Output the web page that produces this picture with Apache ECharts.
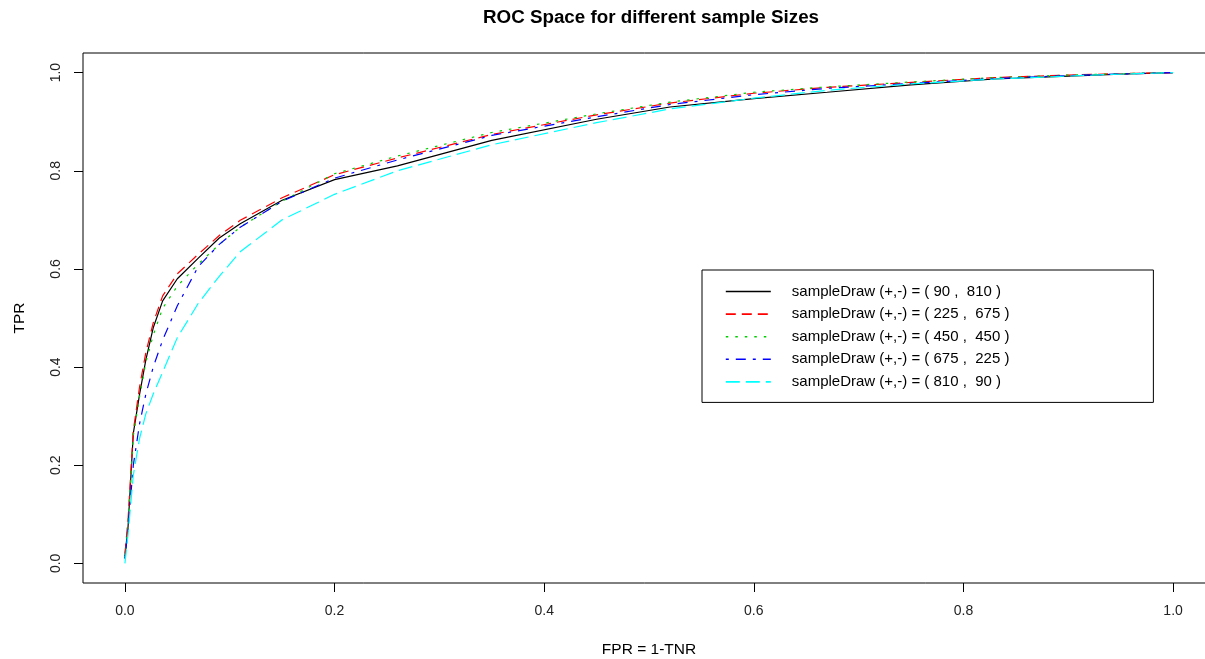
<!DOCTYPE html>
<html>
<head>
<meta charset="utf-8">
<script src="https://cdn.jsdelivr.net/npm/echarts@6/dist/echarts.min.js"></script>
<style>
html,body{margin:0;padding:0;background:#fff;}
#chart{width:1205px;height:659px;}
</style>
</head>
<body>
<div id="chart"></div>
<script>
// ---- Data ----
var fpr = [0, 0.003, 0.008, 0.014, 0.02, 0.027, 0.036, 0.05, 0.07, 0.09, 0.11, 0.15, 0.2, 0.26, 0.35, 0.45, 0.52, 0.6, 0.67, 0.75, 0.83, 0.9, 0.95, 1.0];
var tpr90_810  = [0.015, 0.075, 0.265, 0.345, 0.415, 0.48, 0.535, 0.58, 0.622, 0.663, 0.692, 0.74, 0.782, 0.81, 0.862, 0.905, 0.93, 0.947, 0.96, 0.975, 0.987, 0.993, 0.997, 1.0];
var tpr225_675 = [0.02, 0.09, 0.27, 0.36, 0.43, 0.49, 0.545, 0.59, 0.63, 0.668, 0.699, 0.745, 0.792, 0.826, 0.874, 0.914, 0.938, 0.958, 0.97, 0.98, 0.99, 0.995, 0.998, 1.0];
var tpr450_450 = [0.01, 0.08, 0.26, 0.34, 0.41, 0.465, 0.52, 0.565, 0.61, 0.65, 0.685, 0.738, 0.794, 0.83, 0.878, 0.916, 0.94, 0.96, 0.971, 0.981, 0.99, 0.995, 0.998, 1.0];
var tpr675_225 = [0.01, 0.07, 0.2, 0.285, 0.345, 0.4, 0.455, 0.525, 0.605, 0.65, 0.685, 0.738, 0.785, 0.822, 0.872, 0.91, 0.935, 0.955, 0.968, 0.978, 0.988, 0.994, 0.997, 1.0];
var tpr810_90  = [0.0, 0.06, 0.18, 0.255, 0.305, 0.345, 0.39, 0.46, 0.53, 0.585, 0.635, 0.7, 0.752, 0.8, 0.853, 0.898, 0.926, 0.948, 0.964, 0.977, 0.987, 0.993, 0.997, 1.0];
var seriesNames = [
  'sampleDraw (+,-) = ( 90 ,  810 )',
  'sampleDraw (+,-) = ( 225 ,  675 )',
  'sampleDraw (+,-) = ( 450 ,  450 )',
  'sampleDraw (+,-) = ( 675 ,  225 )',
  'sampleDraw (+,-) = ( 810 ,  90 )'
];
var seriesValues = [tpr90_810, tpr225_675, tpr450_450, tpr675_225, tpr810_90];
var tickValues = [0, 0.2, 0.4, 0.6, 0.8, 1.0];

// ---- Styles ----
var colors = ['#000000', '#ff0000', '#00cd00', '#0000ff', '#00ffff'];
var dashes = ['solid', [10, 6], [2.5, 7], [3, 7, 10, 7], [14, 6]];
var FONT = "'Liberation Sans', Arial, sans-serif";

function pairs(xs, ys) {
  var out = [];
  for (var i = 0; i < xs.length; i++) out.push([xs[i], ys[i]]);
  return out;
}

var series = seriesNames.map(function (name, i) {
  return {
    name: name,
    type: 'line',
    data: pairs(fpr, seriesValues[i]),
    symbol: 'none',
    showSymbol: false,
    smooth: false,
    lineStyle: { color: colors[i], width: 1.2, type: dashes[i] },
    itemStyle: { color: colors[i] },
    emphasis: { disabled: true }
  };
});

var chart = echarts.init(document.getElementById('chart'), null, { renderer: 'canvas' });
chart.setOption({
  animation: false,
  backgroundColor: '#ffffff',
  title: {
    text: 'ROC Space for different sample Sizes',
    left: 646,
    top: 3,
    textAlign: 'center',
    textStyle: { fontFamily: FONT, fontSize: 18.8, fontWeight: 'bold', color: '#000' }
  },
  grid: {
    left: 83, top: 53, width: 1132, height: 530,
    show: true, borderColor: '#000', borderWidth: 1,
    backgroundColor: 'transparent',
    outerBoundsMode: 'none',
    containLabel: false
  },
  legend: {
    left: 702, top: 270,
    orient: 'vertical',
    itemWidth: 45, itemHeight: 14, itemGap: 7.6,
    padding: [14, 144, 13, 23],
    borderColor: '#000', borderWidth: 1,
    backgroundColor: '#fff',
    selectedMode: false,
    lineStyle: { width: 1.6 },
    itemStyle: { opacity: 0, borderWidth: 0 },
    textStyle: { fontFamily: FONT, fontSize: 15, color: '#000', padding: [0, 0, 0, 16] },
    data: seriesNames
  },
  xAxis: {
    type: 'value', min: -0.04, max: 1.04,
    name: 'FPR = 1-TNR', nameLocation: 'middle', nameGap: 59,
    nameTextStyle: { fontFamily: FONT, fontSize: 15.5, color: '#000' },
    splitLine: { show: false },
    axisLine: { show: false, onZero: false },
    axisTick: { show: true, inside: false, length: 9, customValues: tickValues, lineStyle: { color: '#000' } },
    axisLabel: { customValues: tickValues, margin: 21, fontFamily: FONT, fontSize: 14, color: '#222',
      formatter: function (v) { return v.toFixed(1); } }
  },
  yAxis: {
    type: 'value', min: -0.04, max: 1.04,
    name: 'TPR', nameLocation: 'middle', nameGap: 55, nameRotate: 90,
    nameTextStyle: { fontFamily: FONT, fontSize: 15.5, color: '#000' },
    splitLine: { show: false },
    axisLine: { show: false, onZero: false },
    axisTick: { show: true, inside: false, length: 9, customValues: tickValues, lineStyle: { color: '#000' } },
    axisLabel: { customValues: tickValues, rotate: 90, margin: 20, fontFamily: FONT, fontSize: 14, color: '#222',
      formatter: function (v) { return v.toFixed(1); } }
  },
  series: series
});
</script>
</body>
</html>
